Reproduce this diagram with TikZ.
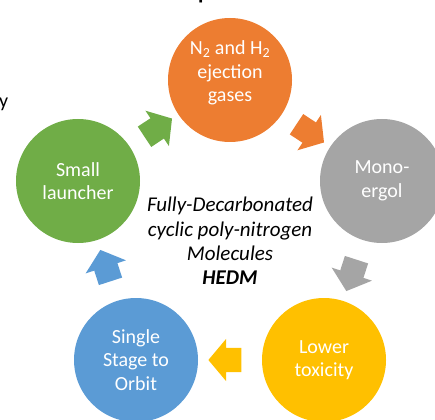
\documentclass[tikz,border=0pt]{standalone}
\usepackage{fontspec}
\setmainfont{Carlito}
\usetikzlibrary{shapes.arrows}
\definecolor{hedmorange}{HTML}{ED7D31}
\definecolor{hedmgray}{HTML}{A5A5A5}
\definecolor{hedmyellow}{HTML}{FFC000}
\definecolor{hedmblue}{HTML}{5B9BD5}
\definecolor{hedmgreen}{HTML}{70AD47}
\tikzset{
  stage/.style={circle, minimum size=124pt, inner sep=0pt, text=white, align=center, font=\fontsize{20}{23.5}\selectfont},
  stagetext/.style={text=white, align=center, font=\fontsize{20}{23.5}\selectfont},
  cyclearrow/.style={single arrow, draw=none, minimum height=33pt, inner xsep=0pt, inner ysep=12pt,
    single arrow head extend=9pt, single arrow tip angle=100, sloped, allow upside down, pos=0.5}
}
\begin{document}
\begin{tikzpicture}[x=1pt,y=-1pt]
\useasboundingbox (0,0) rectangle (435,419);
\clip (0,0) rectangle (435,419);

% cut-off text at the border
\node[anchor=base west, inner sep=0pt, font=\fontsize{20}{24}\selectfont] (cuty) at (-1,107.5) {y};
\node[anchor=base west, inner sep=0pt, font=\fontsize{22}{26}\selectfont\bfseries] (cutp) at (198,0) {p};

% the five stages
\node[stage, fill=hedmorange] (gases) at (230,80) {};
\node[stagetext] (gasestext) at (230,73) {N\textsubscript{2} and H\textsubscript{2}\\ejection\\gases};
\node[stage, fill=hedmgray] (monoergol) at (382,181) {Mono-\\ergol};
\node[stage, fill=hedmyellow] (toxicity) at (324,360) {Lower\\toxicity};
\node[stage, fill=hedmblue] (ssto) at (136,360) {Single\\Stage to\\Orbit};
\node[stage, fill=hedmgreen] (launcher) at (78,181) {Small\\launcher};

% centre text
\node[align=center, font=\fontsize{21}{24.3}\selectfont\itshape] (hedm) at (230,241)
  {Fully-Decarbonated\\cyclic poly-nitrogen\\Molecules\\\textbf{HEDM}};

% block arrows of the cycle
\path (launcher.center) -- (gases.center) node[cyclearrow, fill=hedmgreen] (a1) {};
\path (gases.center) -- (monoergol.center) node[cyclearrow, fill=hedmorange] (a2) {};
\path (monoergol.center) -- (toxicity.center) node[cyclearrow, fill=hedmgray] (a3) {};
\path (toxicity.center) -- (ssto.center) node[cyclearrow, fill=hedmyellow] (a4) {};
\path (ssto.center) -- (launcher.center) node[cyclearrow, fill=hedmblue] (a5) {};

\end{tikzpicture}
\end{document}
